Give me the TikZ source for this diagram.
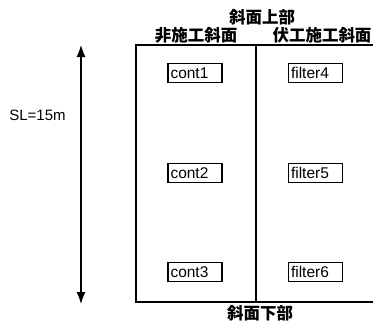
\documentclass[tikz,border=0pt]{standalone}
\usepackage{fontspec}
\setmainfont{Liberation Sans}
\newfontfamily\cjk{Noto Sans CJK JP}
\usetikzlibrary{arrows.meta}
\begin{document}
\begin{tikzpicture}[x=1pt,y=-1pt,
  cell/.style={draw,line width=1.2pt,inner xsep=2.5pt,inner ysep=0pt,text width=49pt,align=left,minimum height=19pt,font=\fontsize{15.5}{15.5}\selectfont},
  jlabel/.style={inner sep=0pt,font=\cjk\bfseries\fontsize{16.5}{16.5}\selectfont},
  frame/.style={line width=1.3pt}]
\useasboundingbox (0,0) rectangle (373,327);
% frame
\coordinate (tl) at (136,45);
\coordinate (tr) at (373,45);
\coordinate (bl) at (136,302);
\coordinate (br) at (373,302);
\coordinate (dt) at (256,45);
\coordinate (db) at (256,302);
\draw[frame] (tr) -- (tl) -- (bl) -- (br);
\draw[frame] (dt) -- (db);
% labels
\node[jlabel] (top) at (262,17) {斜面上部};
\node[jlabel] (left) at (196,35) {非施工斜面};
\node[jlabel] (right) at (322,35) {伏工施工斜面};
\node[jlabel] (bottom) at (260,313) {斜面下部};
% arrow
\coordinate (at) at (81,45);
\coordinate (ab) at (81,304);
\draw[line width=1.2pt,{Latex[length=12pt,width=9pt]}-{Latex[length=12pt,width=9pt]}] (at) -- (ab);
\node[inner sep=0pt,font=\fontsize{15}{15}\selectfont] (sl) at (37.5,115) {SL=15m};
% cells
\node[cell] (c1) at (195,73) {cont1};
\node[cell] (c2) at (195,173) {cont2};
\node[cell] (c3) at (195,272) {cont3};
\node[cell] (f4) at (315.5,73) {filter4};
\node[cell] (f5) at (315.5,173) {filter5};
\node[cell] (f6) at (315.5,272) {filter6};
\end{tikzpicture}
\end{document}
